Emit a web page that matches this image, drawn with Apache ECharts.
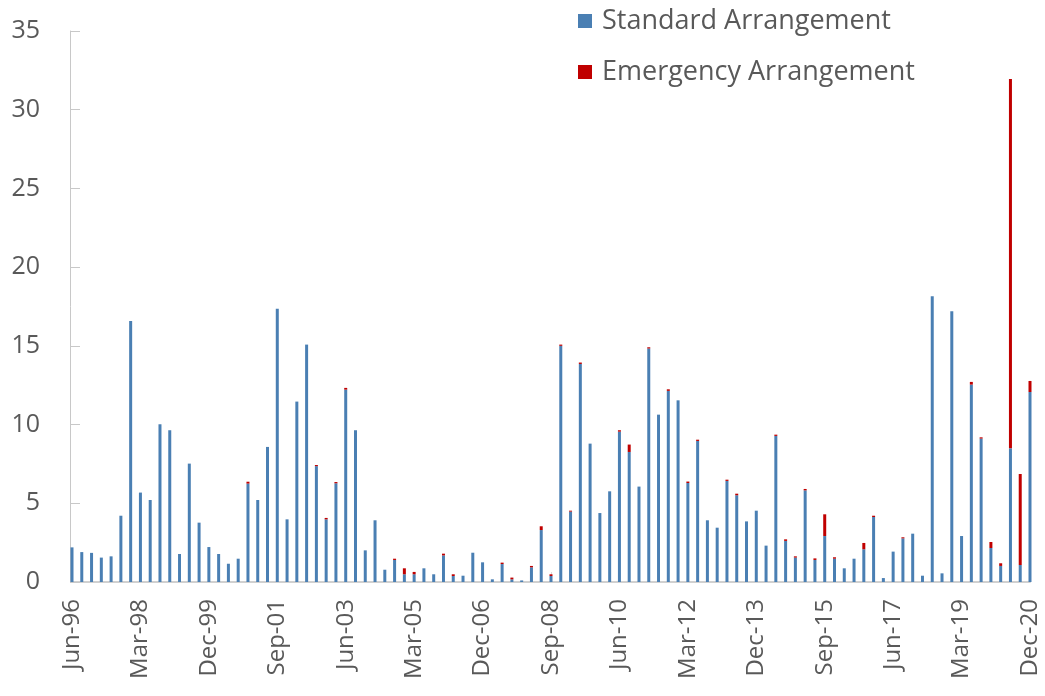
<!DOCTYPE html>
<html>
<head>
<meta charset="utf-8">
<script src="https://cdn.jsdelivr.net/npm/echarts@6/dist/echarts.min.js"></script>
<style>
  html, body { margin: 0; padding: 0; background: #fff; }
  #chart { width: 1045px; height: 696px; }
</style>
</head>
<body>
<div id="chart"></div>
<script>
// quarterly, Jun-96 .. Dec-20
var months = ['Mar', 'Jun', 'Sep', 'Dec'];
var quarters = [];
for (var y = 1996; y <= 2020; y++) {
  for (var q = 0; q < 4; q++) {
    if (y === 1996 && q === 0) continue;
    quarters.push(months[q] + '-' + String(y % 100).padStart(2, '0'));
  }
}

var standard = [
  2.2, 1.9, 1.85, 1.55, 1.63, 4.21, 16.58, 5.68, 5.21, 10.02,
  9.64, 1.78, 7.52, 3.77, 2.22, 1.78, 1.16, 1.48, 6.25, 5.21,
  8.58, 17.35, 3.98, 11.46, 15.08, 7.36, 3.98, 6.27, 12.22, 9.64,
  2.01, 3.92, 0.78, 1.40, 0.49, 0.49, 0.87, 0.49, 1.69, 0.38,
  0.40, 1.86, 1.25, 0.17, 1.14, 0.17, 0.10, 0.93, 3.30, 0.38,
  15.0, 4.47, 13.85, 8.79, 4.38, 5.76, 9.55, 8.26, 6.06, 14.83,
  10.63, 12.14, 11.54, 6.29, 8.96, 3.92, 3.45, 6.42, 5.51, 3.85,
  4.53, 2.31, 9.28, 2.61, 1.55, 5.82, 1.40, 2.92, 1.48, 0.87,
  1.48, 2.08, 4.13, 0.25, 1.93, 2.77, 3.07, 0.40, 18.15, 0.55,
  17.2, 2.92, 12.54, 9.11, 2.16, 1.02, 8.49, 1.08, 12.07
];

var emergency = [
  0, 0, 0, 0, 0, 0, 0, 0, 0, 0,
  0, 0, 0, 0, 0, 0, 0, 0, 0.12, 0,
  0, 0, 0, 0, 0, 0.07, 0.09, 0.08, 0.11, 0,
  0, 0, 0, 0.08, 0.38, 0.15, 0, 0, 0.11, 0.11,
  0, 0, 0, 0, 0.09, 0.11, 0, 0.09, 0.24, 0.11,
  0.08, 0.06, 0.09, 0, 0, 0, 0.09, 0.47, 0, 0.08,
  0, 0.1, 0, 0.09, 0.08, 0, 0, 0.08, 0.1, 0,
  0, 0, 0.08, 0.1, 0.08, 0.09, 0.1, 1.38, 0.09, 0,
  0, 0.40, 0.08, 0, 0, 0.07, 0, 0, 0, 0,
  0, 0, 0.17, 0.08, 0.38, 0.17, 23.46, 5.78, 0.70
];

var yTicks = [0, 5, 10, 15, 20, 25, 30, 35];

var chart = echarts.init(document.getElementById('chart'));
var fontFam = '"Open Sans", "Noto Sans", sans-serif';

chart.setOption({
  animation: false,
  backgroundColor: '#ffffff',
  grid: { left: 72, right: 15, top: 31, bottom: 114 },
  legend: {
    orient: 'vertical',
    left: 573,
    top: 0,
    itemWidth: 14,
    itemHeight: 14,
    itemGap: 19,
    icon: 'rect',
    textStyle: { fontFamily: fontFam, fontSize: 27, color: '#595959', lineHeight: 32, padding: [0, 0, 0, 5] },
    data: ['Standard Arrangement', 'Emergency Arrangement']
  },
  xAxis: {
    type: 'category',
    data: quarters,
    boundaryGap: false,
    axisLine: { lineStyle: { color: '#d0d0d0', width: 2 } },
    axisTick: { inside: true, length: 10, interval: 6, lineStyle: { color: '#d9d9d9' } },
    axisLabel: {
      interval: 6,
      rotate: 90,
      margin: 17,
      fontFamily: fontFam,
      fontSize: 24,
      color: '#595959'
    },
    splitLine: { show: false }
  },
  yAxis: {
    type: 'value',
    min: yTicks[0],
    max: yTicks[yTicks.length - 1],
    interval: 5,
    offset: 2,
    axisLine: { show: true, lineStyle: { color: '#c8c8c8' } },
    axisTick: { show: true, inside: true, length: 10, lineStyle: { color: '#c8c8c8' } },
    axisLabel: { margin: 30, fontFamily: fontFam, fontSize: 25, color: '#595959' },
    splitLine: { show: false }
  },
  series: [
    {
      name: 'Standard Arrangement',
      type: 'bar',
      stack: 'total',
      barWidth: 3,
      clip: false,
      itemStyle: { color: '#4a7fb3' },
      data: standard
    },
    {
      name: 'Emergency Arrangement',
      type: 'bar',
      stack: 'total',
      barWidth: 3,
      clip: false,
      itemStyle: { color: '#c00000' },
      data: emergency
    }
  ]
});
</script>
</body>
</html>
